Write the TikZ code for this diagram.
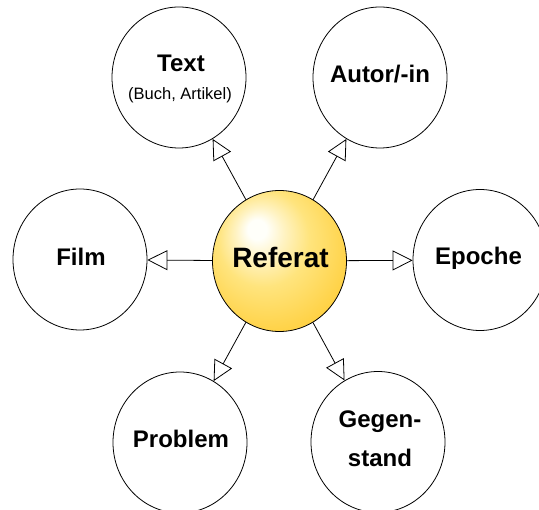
\documentclass[tikz,border=0pt]{standalone}
\usepackage{fontspec}
\setmainfont{Liberation Sans}
\usetikzlibrary{shapes.geometric,arrows.meta}

\definecolor{ballwhite}{RGB}{255,255,250}
\definecolor{ballcream}{RGB}{255,243,195}
\definecolor{balllight}{RGB}{255,228,125}
\definecolor{ballgold}{RGB}{255,210,70}
\definecolor{balldeep}{RGB}{252,200,50}

% glossy yellow ball, highlight up and to the left
\pgfdeclareradialshading{goldball}{\pgfpoint{-9bp}{12bp}}{%
  color(0bp)=(ballwhite);
  color(3.5bp)=(ballwhite);
  color(9bp)=(ballcream);
  color(17bp)=(balllight);
  color(30bp)=(ballgold);
  color(50bp)=(balldeep)}

\tikzset{
  bubble/.style={ellipse, draw=black, line width=0.8pt, fill=white,
    minimum width=134pt, minimum height=141pt, inner sep=0pt},
  hub/.style={bubble, shading=goldball},
  biglabel/.style={anchor=base, inner sep=0pt,
    font=\fontsize{24}{24}\selectfont\bfseries},
  hublabel/.style={anchor=base, inner sep=0pt,
    font=\fontsize{28}{28}\selectfont\bfseries},
  smalllabel/.style={anchor=base, inner sep=0pt,
    font=\fontsize{16.5}{16.5}\selectfont},
  link/.style={line width=0.8pt,
    -{Triangle[open, length=20pt, width=20pt, line width=0.8pt]}}
}

\begin{document}
\begin{tikzpicture}[x=1pt, y=-1pt]
  \useasboundingbox (0,0) rectangle (539,510);

  % circles
  \node[hub]    (ref)  at (279.5,261) {};
  \node[bubble] (text) at (179,77.5) {};
  \node[bubble] (aut)  at (380,77.5) {};
  \node[bubble] (film) at (80,259.5) {};
  \node[bubble] (epo)  at (480,260) {};
  \node[bubble] (prob) at (180,442.5) {};
  \node[bubble] (geg)  at (378,442) {};

  % connectors from the hub to each topic
  \foreach \t in {text,aut,film,epo,prob,geg}
    \draw[link] (ref) -- (\t);

  % labels
  \node[hublabel]   (lref)  at (280.5,268) {Referat};
  \node[biglabel]   (ltext) at (181,72) {Text};
  \node[smalllabel] (lsub)  at (180,100) {(Buch, Artikel)};
  \node[biglabel]   (laut)  at (380,83) {Autor/-in};
  \node[biglabel]   (lfilm) at (81,266) {Film};
  \node[biglabel]   (lepo)  at (478.5,265) {Epoche};
  \node[biglabel]   (lprob) at (181,448) {Problem};
  \node[biglabel]   (lgeg1) at (380,428) {Gegen-};
  \node[biglabel]   (lgeg2) at (380,467) {stand};
\end{tikzpicture}
\end{document}
